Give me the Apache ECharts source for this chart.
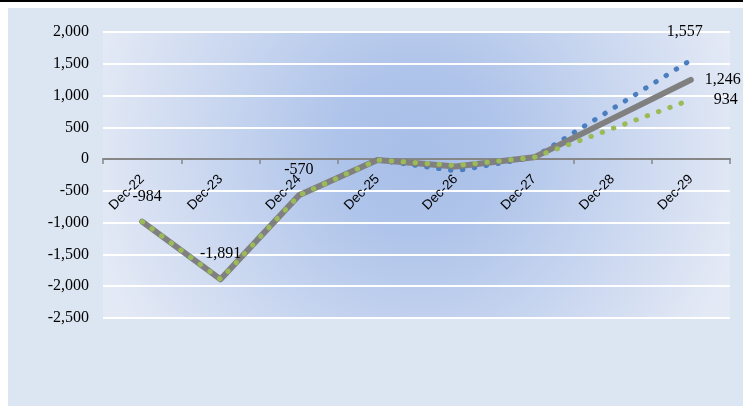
<!DOCTYPE html>
<html>
<head>
<meta charset="utf-8">
<script src="https://cdn.jsdelivr.net/npm/echarts@6/dist/echarts.min.js"></script>
<style>
  html, body { margin: 0; padding: 0; background: #ffffff; }
  #topline { position: absolute; left: 0; top: 0; width: 743px; height: 2px; background: #000; }
  #bg { position: absolute; left: 8px; top: 8px; width: 735px; height: 398px; background: #dce6f2; }
  #chart { position: absolute; left: 0; top: 0; width: 743px; height: 406px; }
</style>
</head>
<body>
<div id="topline"></div>
<div id="bg"></div>
<div id="chart"></div>
<script>
// Data
var categories = ['Dec-22', 'Dec-23', 'Dec-24', 'Dec-25', 'Dec-26', 'Dec-27', 'Dec-28', 'Dec-29'];
var baseValues  = [-984, -1891, -570, -14, -115, 28, 637, 1246];
var highValues  = [-984, -1891, -570, -14, -185, 28, 792, 1557];
var lowValues   = [-984, -1891, -570, -14, -100, 28, 481, 934];
var yTicks = { min: -2500, max: 2000, interval: 500 };

var serif = 'Liberation Serif';
function fmt(v) { return echarts.format.addCommas(v); }

function withLabels(values, labelMap) {
  return values.map(function (v, i) {
    if (labelMap[i]) {
      return {
        value: v,
        label: Object.assign({
          show: true,
          formatter: function (p) { return fmt(p.value); },
          fontFamily: serif, fontSize: 16, color: '#000'
        }, labelMap[i])
      };
    }
    return v;
  });
}

var lastIdx = categories.length - 1;
var baseLabelMap = {};
baseLabelMap[0] = { position: 'top', distance: 17, offset: [5, 0] };
baseLabelMap[1] = { position: 'top', distance: 17 };
baseLabelMap[2] = { position: 'top', distance: 17 };
baseLabelMap[lastIdx] = { position: 'right', distance: 14 };
var highLabelMap = {};
highLabelMap[lastIdx] = { position: 'top', distance: 20, offset: [-6, 0] };
var lowLabelMap = {};
lowLabelMap[lastIdx] = { position: 'right', distance: 23 };

var gridTop = 32, gridBottom = 88, chartH = 406;
var plotH = chartH - gridTop - gridBottom;
// vertical distance from the plot's bottom edge up to the zero line, via the value scale
var zeroOffset = -plotH * (0 - yTicks.min) / (yTicks.max - yTicks.min);

var chart = echarts.init(document.getElementById('chart'), null, { renderer: 'canvas' });
chart.setOption({
  backgroundColor: 'transparent',
  animation: false,
  grid: {
    left: 103, right: 13, top: gridTop, bottom: gridBottom,
    show: true,
    borderWidth: 0,
    backgroundColor: new echarts.graphic.RadialGradient(0.5, 0.42, 1.15, [
      { offset: 0, color: '#a7bee7' },
      { offset: 0.25, color: '#afc4ea' },
      { offset: 1, color: '#e3e9f5' }
    ])
  },
  xAxis: {
    type: 'category',
    data: categories,
    boundaryGap: true,
    offset: zeroOffset,
    axisLine: { show: true, onZero: false, lineStyle: { color: '#868686', width: 2 } },
    axisTick: { show: true, length: 5, lineStyle: { color: '#868686', width: 1.5 } },
    axisLabel: {
      rotate: 45, interval: 0, margin: 18,
      fontFamily: 'Liberation Sans', fontSize: 13.5, color: '#000'
    },
    splitLine: { show: false }
  },
  yAxis: {
    type: 'value',
    min: yTicks.min, max: yTicks.max, interval: yTicks.interval,
    axisLine: { show: false },
    axisTick: { show: false },
    axisLabel: {
      margin: 14,
      fontFamily: serif, fontSize: 16, color: '#000',
      formatter: function (v) { return fmt(v); }
    },
    splitLine: { show: true, lineStyle: { color: '#ffffff', width: 2 } }
  },
  series: [
    {
      name: 'High', type: 'line', z: 2,
      data: withLabels(highValues, highLabelMap),
      symbol: 'circle', symbolSize: 0.1, showSymbol: true, showAllSymbol: true,
      itemStyle: { color: '#4a7ebf' },
      lineStyle: { color: '#4a7ebf', width: 5, type: [0.5, 11.5], cap: 'round' }
    },
    {
      name: 'Base', type: 'line', z: 3,
      data: withLabels(baseValues, baseLabelMap),
      symbol: 'circle', symbolSize: 0.1, showSymbol: true, showAllSymbol: true,
      itemStyle: { color: '#808080' },
      lineStyle: { color: '#808080', width: 6, cap: 'round', join: 'round' }
    },
    {
      name: 'Low', type: 'line', z: 4,
      data: withLabels(lowValues, lowLabelMap),
      symbol: 'circle', symbolSize: 0.1, showSymbol: true, showAllSymbol: true,
      itemStyle: { color: '#9bbb59' },
      lineStyle: { color: '#9bbb59', width: 5, type: [0.5, 11.5], cap: 'round' }
    }
  ]
});
</script>
</body>
</html>
